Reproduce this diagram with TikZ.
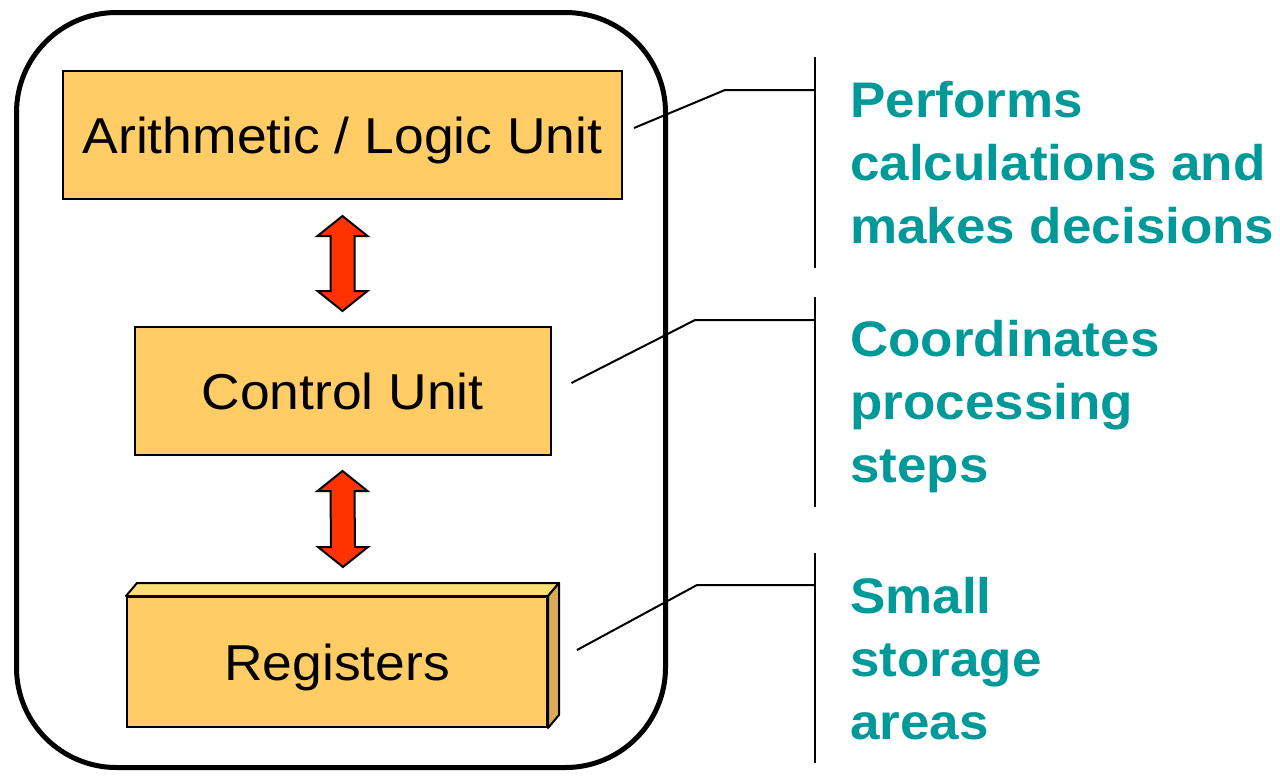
\documentclass[tikz,border=0pt]{standalone}
\usepackage{fontspec}
\setmainfont{Liberation Sans}[FakeStretch=1.06]
\usepackage{tikz}
\usetikzlibrary{calc}
\definecolor{unitfill}{RGB}{255,204,102}
\definecolor{unittop}{RGB}{255,221,119}
\definecolor{unitside}{RGB}{218,170,85}
\definecolor{flow}{RGB}{255,51,0}
\definecolor{note}{RGB}{0,153,153}

\tikzset{
  unitbox/.style={draw,line width=1.5pt,fill=unitfill,minimum height=96pt,text height=27pt,text depth=0pt,font=\fontsize{37.8}{45}\selectfont},
  slab/.style={draw,line width=1.5pt,line join=round},
  fatarrow/.style={draw,line width=1.5pt,fill=flow,line join=miter},
  callout/.style={line width=1.5pt},
  notetext/.style={anchor=north west,inner sep=0pt,align=left,text=note,font=\fontsize{37.5}{47.25}\selectfont\bfseries},
}

\begin{document}
\begin{tikzpicture}[x=0.75pt,y=-0.75pt]
\useasboundingbox (0,0) rectangle (1280,776);

% processor outline
\node[draw,line width=3.75pt,rounded corners=75pt,minimum width=486.75pt,minimum height=566.25pt] (cpu) at (341,390) {};

% the three units
\node[unitbox,minimum width=419.25pt] (alu) at (342.5,135) {Arithmetic / Logic Unit};
\node[unitbox,minimum width=312pt] (cu) at (342.5,391) {Control Unit};
\node[unitbox,minimum width=315pt,minimum height=97.5pt] (reg) at (337,662) {Registers};
\draw[slab,fill=unittop] (reg.north west) -- ++(11,-13) -- ($(reg.north east)+(11,-13)$) -- (reg.north east) -- cycle;
\draw[slab,fill=unitside] (reg.north east) -- ++(11,-13) -- ($(reg.south east)+(11,-13)$) -- (reg.south east) -- cycle;

% two-way arrows between units
\coordinate (a1) at ($(alu.south)+(0,16)$);
\coordinate (b1) at ($(cu.north)+(0,-15)$);
\draw[fatarrow] (a1) -- ++(25,20) -- ++(-13,0) -- ($(b1)+(12,-20)$) -- ++(13,0) -- (b1) -- ++(-25,-20) -- ++(13,0) -- ($(a1)+(-12,20)$) -- ++(-13,0) -- cycle;
\coordinate (a2) at ($(cu.south)+(0,15)$);
\coordinate (b2) at ($(reg.north)+(6,-29)$);
\draw[fatarrow] (a2) -- ++(25,20) -- ++(-13,0) -- ($(b2)+(12,-20)$) -- ++(13,0) -- (b2) -- ++(-25,-20) -- ++(13,0) -- ($(a2)+(-12,20)$) -- ++(-13,0) -- cycle;

% callout bars
\coordinate (bar1t) at (815,57);  \coordinate (bar1b) at (815,268);
\coordinate (bar2t) at (815,297); \coordinate (bar2b) at (815,507);
\coordinate (bar3t) at (815,553); \coordinate (bar3b) at (815,763);
\draw[callout] (bar1t) -- (bar1b);
\draw[callout] (bar2t) -- (bar2b);
\draw[callout] (bar3t) -- (bar3b);

% leader lines
\coordinate (k1) at (725,90);
\coordinate (k2) at (695,320);
\coordinate (k3) at (697,585);
\draw[callout] ($(alu.east)+(11,-7)$) -- (k1) -- (k1 -| bar1t);
\draw[callout] ($(cu.east)+(20,-8)$) -- (k2) -- (k2 -| bar2t);
\draw[callout] ($(reg.east)+(29,-12)$) -- (k3) -- (k3 -| bar3t);

% descriptions
\node[notetext] (aluNote) at (850,81) {Performs\\calculations and\\makes decisions};
\node[notetext] (cuNote) at (850,320) {Coordinates\\processing\\steps};
\node[notetext] (regNote) at (850,577) {Small\\storage\\areas};
\end{tikzpicture}
\end{document}
